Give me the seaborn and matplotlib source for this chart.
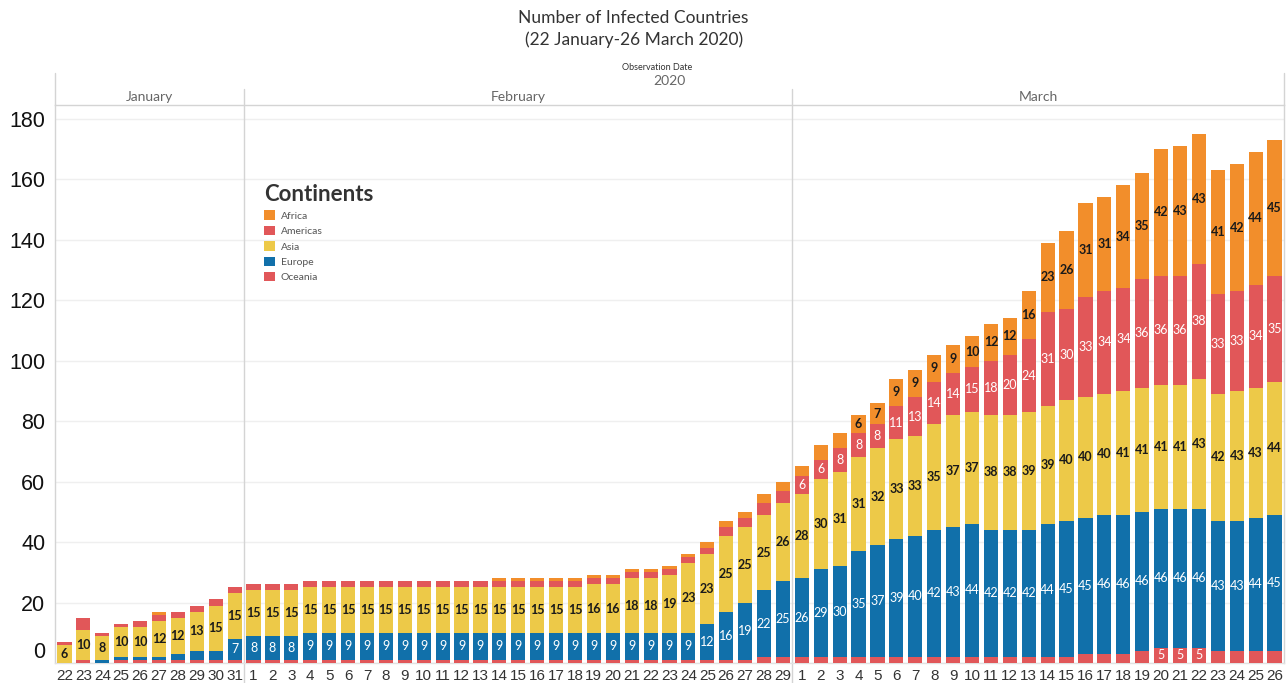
import numpy as np
import pandas as pd
import matplotlib
matplotlib.use("Agg")
import matplotlib.pyplot as plt
import matplotlib.transforms as mtransforms
from matplotlib.patches import Patch
import seaborn as sns

# ---------------- data ----------------
months = ["January"] * 10 + ["February"] * 29 + ["March"] * 26
days = list(range(22, 32)) + list(range(1, 30)) + list(range(1, 27))

oceania = ([0, 1, 0, 1, 1, 1, 1, 1, 1, 1]
           + [1] * 27 + [2, 2]
           + [2] * 15 + [3, 3, 3, 4, 5, 5, 5, 4, 4, 4, 4])
europe = ([0, 0, 1, 1, 1, 1, 2, 3, 3, 7]
          + [8, 8, 8] + [9] * 21 + [12, 16, 19, 22, 25]
          + [26, 29, 30, 35, 37, 39, 40, 42, 43, 44, 42, 42, 42, 44, 45, 45,
             46, 46, 46, 46, 46, 46, 43, 43, 44, 45])
asia = ([6, 10, 8, 10, 10, 12, 12, 13, 15, 15]
        + [15] * 18 + [16, 16, 18, 18, 19, 23, 23, 25, 25, 25, 26]
        + [28, 30, 31, 31, 32, 33, 33, 35, 37, 37, 38, 38, 39, 39, 40, 40,
           40, 41, 41, 41, 41, 43, 42, 43, 43, 44])
americas = ([1, 4, 1, 1, 2, 2, 2, 2, 2, 2]
            + [2] * 25 + [3, 3, 4, 4]
            + [6, 6, 8, 8, 8, 11, 13, 14, 14, 15, 18, 20, 24, 31, 30, 33,
               34, 34, 36, 36, 36, 38, 33, 33, 34, 35])
africa = ([0, 0, 0, 0, 0, 1, 0, 0, 0, 0]
          + [0] * 13 + [1] * 11 + [2, 2, 2, 3, 3]
          + [3, 5, 5, 6, 7, 9, 9, 9, 9, 10, 12, 12, 16, 23, 26, 31, 31, 34,
             35, 42, 43, 43, 41, 42, 44, 45])

continents = ["Oceania", "Europe", "Asia", "Americas", "Africa"]  # bottom -> top
colors = {"Africa": "#F28E2B", "Americas": "#E15759", "Asia": "#EDC948",
          "Europe": "#1170AA", "Oceania": "#E15759"}
label_colors = {"Africa": "#1a1a1a", "Americas": "white", "Asia": "#1a1a1a",
                "Europe": "white", "Oceania": "white"}

keys = [f"{m[:3]} {d}" for m, d in zip(months, days)]
df = pd.DataFrame({"key": keys, "month": months, "day": days,
                   "Oceania": oceania, "Europe": europe, "Asia": asia,
                   "Americas": americas, "Africa": africa})

# cumulative stacks
cum = df[continents].cumsum(axis=1)

# ---------------- figure ----------------
W, H = 1286, 683
fig = plt.figure(figsize=(W / 100, H / 100), dpi=100)
sns.set_style("white")
plt.rcParams["font.family"] = ["Lato", "DejaVu Sans"]

ax_left, ax_right, ax_top, ax_bottom = 55, 1284, 105, 663
ax = fig.add_axes([ax_left / W, (H - ax_bottom) / H,
                   (ax_right - ax_left) / W, (ax_bottom - ax_top) / H])

# draw cumulative bars from top layer down so each layer shows its segment
for c in continents[::-1]:
    sns.barplot(x=df["key"], y=cum[c], order=keys, color=colors[c],
                width=0.75, saturation=1, ax=ax, edgecolor="none",
                linewidth=0, zorder=3)

ymax = (ax_bottom - ax_top) / 3.024
ax.set_ylim(0, ymax)
ax.set_xlim(-0.5, len(keys) - 0.5)

# grid
ax.set_yticks(np.arange(0, 181, 20))
ax.yaxis.grid(True, color="#efefef", linewidth=1.0, zorder=0)
ax.xaxis.grid(False)
ax.set_axisbelow(True)
ax.set_xlabel("")
ax.set_ylabel("")

ax.set_xticks(range(len(keys)))
ax.set_xticklabels([str(d) for d in days], fontsize=11, color="#333333",
                   family=["Liberation Sans", "DejaVu Sans"])
ax.set_yticklabels([str(v) for v in range(0, 181, 20)], fontsize=15.5,
                   color="#111111", family=["Liberation Sans", "DejaVu Sans"])
ax.tick_params(axis="both", length=0)
ax.tick_params(axis="x", pad=4)
ax.tick_params(axis="y", pad=7)
for t in ax.get_yticklabels():
    if t.get_text() == "0":
        t.set_verticalalignment("bottom")

for s in ["top", "right", "left", "bottom"]:
    ax.spines[s].set_visible(True)
    ax.spines[s].set_color("#d4d4d4")
    ax.spines[s].set_linewidth(1.0)
ax.spines["bottom"].set_color("#e2e2e2")

# month separators (extend into header and tick label area)
trans_xfig = mtransforms.blended_transform_factory(ax.transData, fig.transFigure)
for xb in [9.5, 38.5]:
    ax.plot([xb, xb], [0, (H - 89) / H], transform=trans_xfig,
            color="#d4d4d4", linewidth=1.0, clip_on=False, zorder=1)
# outer verticals in header
for xb in [ax_left, ax_right]:
    fig.add_artist(plt.Line2D([xb / W, xb / W], [(H - 105) / H, (H - 73) / H],
                              color="#d4d4d4", linewidth=1.0))

# month headers
month_names = ["January", "February", "March"]
for mname in month_names:
    idx = [i for i, m in enumerate(months) if m == mname]
    xc = (idx[0] + idx[-1]) / 2
    ax.text(xc, (H - 97) / H, mname, transform=trans_xfig, ha="center",
            va="center", fontsize=10, color="#666666")

fig.text(669 / W, 1 - 81 / H, "2020", ha="center", va="center",
         fontsize=10, color="#666666")
fig.text(657 / W, 1 - 67 / H, "Observation Date", ha="center", va="center",
         fontsize=6.5, color="#333333")

# title
fig.text(633 / W, 1 - 18 / H, "Number of Infected Countries", ha="center",
         va="center", fontsize=12.5, color="#333333")
fig.text(634 / W, 1 - 40 / H, "(22 January-26 March 2020)", ha="center",
         va="center", fontsize=12.5, color="#333333")

# segment labels
for c_i, c in enumerate(continents):
    tops = cum[c].values
    vals = df[c].values
    for i, (v, t) in enumerate(zip(vals, tops)):
        show = v >= 6 or (c == "Oceania" and v >= 5)
        if show:
            ax.text(i, t - v / 2, str(v), ha="center", va="center",
                    fontsize=9, color=label_colors[c],
                    fontweight="bold" if label_colors[c] != "white" else "normal",
                    zorder=5)

# legend
legend_order = ["Africa", "Americas", "Asia", "Europe", "Oceania"]
handles = [Patch(facecolor=colors[c], edgecolor="none", label=c)
           for c in legend_order]
leg = ax.legend(handles=handles, title="Continents", loc="upper left",
                bbox_to_anchor=(259 / W, 1 - 179 / H),
                bbox_transform=fig.transFigure, frameon=False,
                fontsize=7.5, title_fontsize=16, handlelength=1.0,
                handleheight=1.0, handletextpad=0.6, labelspacing=0.5,
                borderpad=0, alignment="left")
leg.get_title().set_fontweight("bold")
leg.get_title().set_color("#333333")
for t in leg.get_texts():
    t.set_color("#555555")

fig.savefig("out.png", dpi=100)
